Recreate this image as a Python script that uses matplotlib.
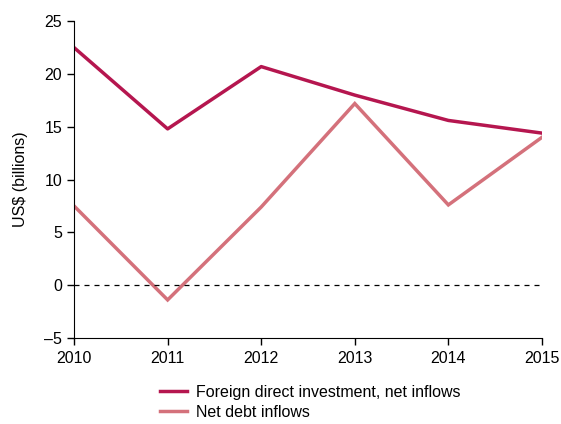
import numpy as np
import matplotlib.pyplot as plt

plt.rcParams['font.family'] = ['Liberation Sans', 'DejaVu Sans']
plt.rcParams['axes.unicode_minus'] = False

# Data
years = [2010, 2011, 2012, 2013, 2014, 2015]
fdi = [22.5, 14.8, 20.7, 18.0, 15.6, 14.4]
debt = [7.5, -1.4, 7.4, 17.2, 7.6, 14.0]
yticks = [-5, 0, 5, 10, 15, 20, 25]

fig = plt.figure(figsize=(5.61, 4.24), dpi=100)
ax = fig.add_axes([0.132, 0.203, 0.834, 0.747])

ax.plot(years, fdi, color='#b5164f', lw=2.5, label='Foreign direct investment, net inflows',
        solid_joinstyle='round')
ax.plot(years, debt, color='#d4717b', lw=2.5, label='Net debt inflows',
        solid_joinstyle='miter')
ax.axhline(0, color='black', lw=0.9, ls=(0, (4, 4)))

ax.set_xlim(2010, 2015)
ax.set_ylim(-5, 25)
ax.set_xticks(years)
ax.set_yticks(yticks)
ax.set_yticklabels([str(v).replace('-', '\u2013') for v in yticks])
ax.tick_params(labelsize=11.5, direction='out', length=5, width=1)
ax.tick_params(axis='x', pad=4.5)
ax.spines['top'].set_visible(False)
ax.spines['right'].set_visible(False)
ax.set_ylabel('US$ (billions)', fontsize=11.5, labelpad=12)

ax.legend(loc='upper left', bbox_to_anchor=(0.176, -0.137), frameon=False,
          fontsize=11.5, handlelength=1.7, handletextpad=0.55, labelspacing=0.34,
          borderaxespad=0, borderpad=0.2)

fig.savefig('out.png', dpi=100)
